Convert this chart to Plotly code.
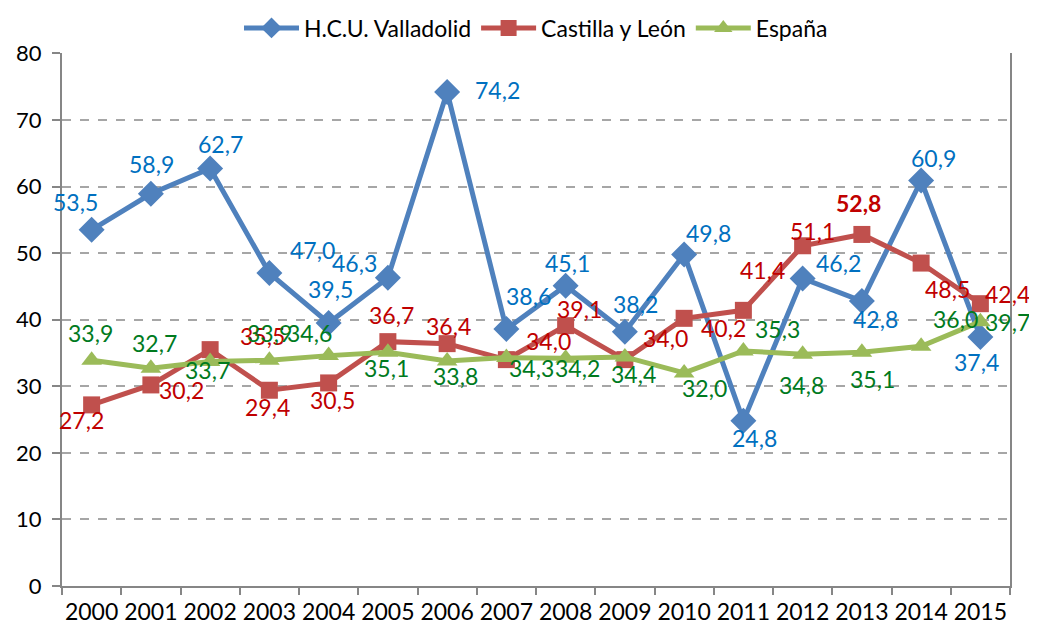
import plotly.graph_objects as go

years = [str(y) for y in range(2000, 2016)]
hcu = [53.5, 58.9, 62.7, 47.0, 39.5, 46.3, 74.2, 38.6, 45.1, 38.2, 49.8, 24.8, 46.2, 42.8, 60.9, 37.4]
cyl = [27.2, 30.2, 35.5, 29.4, 30.5, 36.7, 36.4, 34.0, 39.1, 34.0, 40.2, 41.4, 51.1, 52.8, 48.5, 42.4]
esp = [33.9, 32.7, 33.7, 33.9, 34.6, 35.1, 33.8, 34.3, 34.2, 34.4, 32.0, 35.3, 34.8, 35.1, 36.0, 39.7]

# label offsets (screen px, dx right, dy down)
hcu_off = [(-16, -28), (1, -30), (10, -25), (43, -23), (2, -34), (-33, -15), (50, -2), (22, -33),
           (2, -23), (11, -28), (24, -21), (11, 17), (36, -15), (14, 18), (12, -23), (-4, 25)]
cyl_off = [(-10, 15), (31, 5), (52, -14), (-2, 17), (4, 17), (4, -27), (1, -18), (42, -19),
           (14, -17), (41, -22), (39, 10), (19, -40), (10, -15), (-3, -31), (26, 26), (27, -10)]
esp_off = [(-1, -27), (4, -25), (-3, 8), (0, -27), (-19, -23), (-1, 16), (8, 15), (25, 10),
           (12, 10), (9, 17), (20, 15), (34, -22), (-1, 31), (11, 27), (34, -27), (27, 0)]

FONT = "Lato"
fig = go.Figure()
series = [
    ("H.C.U. Valladolid", hcu, "#4F81BD", "diamond", 20, "#0070C0", hcu_off),
    ("Castilla y León", cyl, "#C0504D", "square", 17, "#C00000", cyl_off),
    ("España", esp, "#9BBB59", "triangle-up", 18, "#007A1E", esp_off),
]
for name, vals, col, sym, ms, lcol, offs in series:
    fig.add_trace(go.Scatter(
        x=years, y=vals, name=name, mode="lines+markers",
        line=dict(color=col, width=5),
        marker=dict(symbol=sym, size=ms, color=col),
    ))

annotations = []
for name, vals, col, sym, ms, lcol, offs in series:
    for i, v in enumerate(vals):
        dx, dy = offs[i]
        bold = (name == "Castilla y León" and years[i] == "2013")
        txt = f"{v:.1f}".replace(".", ",")
        if bold:
            txt = f"<b>{txt}</b>"
        annotations.append(dict(
            x=i, y=v, xref="x", yref="y", text=txt, showarrow=False,
            xshift=dx, yshift=-dy,
            font=dict(family=FONT, size=23, color=lcol),
        ))

fig.update_layout(
    width=1021, height=619,
    margin=dict(l=54, r=19, t=45, b=41, autoexpand=False),
    paper_bgcolor="white", plot_bgcolor="white",
    font=dict(family=FONT, size=23, color="black"),
    annotations=annotations,
    showlegend=True,
    legend=dict(orientation="h", x=0.5, xanchor="center", y=1.047, yanchor="middle",
                font=dict(family=FONT, size=23, color="black"), itemwidth=55,
                traceorder="normal"),
)
fig.update_xaxes(
    type="category", range=[-0.5, 15.5], automargin=False, tickangle=0,
    showline=True, linecolor="#868686", linewidth=2,
    ticks="outside", tickson="boundaries", ticklen=7, tickcolor="#868686", tickwidth=1.5,
    ticklabelstandoff=4,
    showgrid=False, tickfont=dict(family=FONT, size=23, color="black"),
)
fig.update_yaxes(
    range=[0, 80.05], tickvals=[0, 10, 20, 30, 40, 50, 60, 70, 80], automargin=False,
    showline=True, linecolor="#868686", linewidth=2, mirror=True,
    ticks="outside", ticklen=8, tickcolor="#868686", tickwidth=1.5,
    ticklabelstandoff=6,
    showgrid=True, gridcolor="#A6A6A6", griddash="dash", gridwidth=1.5,
    zeroline=False, tickfont=dict(family=FONT, size=22, color="black"),
)

fig.write_html("out.html")
